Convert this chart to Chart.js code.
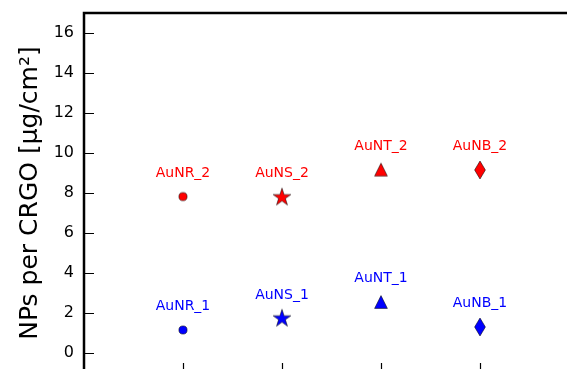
<!DOCTYPE html>
<html>
<head>
<meta charset="utf-8">
<script src="https://cdn.jsdelivr.net/npm/chart.js@4"></script>
<style>
  html, body { margin: 0; padding: 0; background: #fff; overflow: hidden; }
  #wrap { position: absolute; left: 0; top: 0; width: 640px; height: 400px; }
</style>
</head>
<body>
<div id="wrap"><canvas id="c" width="640" height="400"></canvas></div>
<script>
// Nanoparticle loading per sample type, two batches each
const categories = ['AuNR', 'AuNS', 'AuNT', 'AuNB'];
const xPositions = [1, 2, 3, 4];
const batch1 = [1.15, 1.72, 2.55, 1.3];
const batch2 = [7.82, 7.78, 9.17, 9.15];
const yTicks = [0, 2, 4, 6, 8, 10, 12, 14, 16];
const yTitle = 'NPs per CRGO [\u03bcg/cm\u00b2]';

const FONT = 'DejaVu Sans';

// Marker glyphs (circle, star, triangle, thin diamond) drawn on small canvases
function makeMarker(shape, fill) {
  const c = document.createElement('canvas');
  c.width = 26; c.height = 26;
  const g = c.getContext('2d');
  const cx = 13, cy = 13;
  g.beginPath();
  if (shape === 'circle') {
    g.arc(cx, cy, 4.1, 0, Math.PI * 2);
  } else if (shape === 'star') {
    const R = 9.3, r = R * 0.382;
    for (let i = 0; i < 10; i++) {
      const a = -Math.PI / 2 + i * Math.PI / 5;
      const rr = i % 2 === 0 ? R : r;
      const px = cx + rr * Math.cos(a), py = cy + rr * Math.sin(a);
      if (i === 0) g.moveTo(px, py); else g.lineTo(px, py);
    }
  } else if (shape === 'triangle') {
    const s = 6.4;
    g.moveTo(cx, cy - s);
    g.lineTo(cx + s, cy + s);
    g.lineTo(cx - s, cy + s);
  } else if (shape === 'diamond') {
    const h = 9, w = 5.4;
    g.moveTo(cx, cy - h);
    g.lineTo(cx + w, cy);
    g.lineTo(cx, cy + h);
    g.lineTo(cx - w, cy);
  }
  g.closePath();
  g.fillStyle = fill;
  g.fill();
  g.lineWidth = 0.7;
  g.strokeStyle = 'rgba(0,0,0,0.75)';
  g.stroke();
  return c;
}

const shapes = ['circle', 'star', 'triangle', 'diamond'];
const BLUE = '#0000ff', RED = '#ff0000';

function makeSeries(values, color, suffix) {
  return {
    data: values.map((v, i) => ({ x: xPositions[i], y: v })),
    names: categories.map(n => n + suffix),
    color: color,
    backgroundColor: color,
    borderColor: color,
    pointStyle: shapes.map(s => makeMarker(s, color)),
    pointRadius: 5,
    showLine: false
  };
}

// Inward tick marks on the left and bottom spines, plus a full frame
const framePlugin = {
  id: 'frame',
  afterDatasetsDraw(chart) {
    const { ctx, chartArea: a, scales } = chart;
    ctx.save();
    ctx.strokeStyle = '#000';
    ctx.lineWidth = 1.2;
    ctx.beginPath();
    yTicks.forEach(v => {
      const py = Math.round(scales.y.getPixelForValue(v)) + 0.5;
      ctx.moveTo(a.left, py); ctx.lineTo(a.left + 10, py);
      ctx.moveTo(a.right, py); ctx.lineTo(a.right - 10, py);
    });
    xPositions.forEach(v => {
      const px = Math.round(scales.x.getPixelForValue(v)) + 0.5;
      ctx.moveTo(px, a.bottom); ctx.lineTo(px, a.bottom - 10);
    });
    ctx.stroke();
    ctx.lineWidth = 2.5;
    ctx.strokeRect(a.left, a.top, a.right - a.left, a.bottom - a.top);
    ctx.restore();
  }
};

// Sample names written above each marker
const namePlugin = {
  id: 'names',
  afterDatasetsDraw(chart) {
    const { ctx } = chart;
    ctx.save();
    ctx.font = '14px "' + FONT + '"';
    ctx.textAlign = 'center';
    ctx.textBaseline = 'alphabetic';
    chart.data.datasets.forEach((ds, di) => {
      const meta = chart.getDatasetMeta(di);
      ctx.fillStyle = ds.color;
      meta.data.forEach((pt, i) => {
        ctx.fillText(ds.names[i], pt.x, pt.y - 20);
      });
    });
    ctx.restore();
  }
};

new Chart(document.getElementById('c'), {
  type: 'scatter',
  data: {
    datasets: [
      makeSeries(batch1, BLUE, '_1'),
      makeSeries(batch2, RED, '_2')
    ]
  },
  options: {
    responsive: false,
    animation: false,
    devicePixelRatio: 1,
    events: [],
    layout: { padding: { left: 0, top: 13, right: 61, bottom: 27 } },
    plugins: { legend: { display: false }, tooltip: { enabled: false } },
    scales: {
      x: {
        type: 'linear',
        min: 0,
        max: 5,
        display: false
      },
      y: {
        type: 'linear',
        min: -1,
        max: 17,
        afterBuildTicks: s => { s.ticks = yTicks.map(v => ({ value: v })); },
        afterFit: s => { s.width = 84; s.paddingTop = 0; s.paddingBottom = 0; },
        grid: { display: false, drawTicks: false },
        border: { display: false },
        ticks: {
          color: '#000',
          padding: 10,
          font: { family: FONT, size: 16 },
          callback: v => String(v)
        },
        title: {
          display: true,
          text: yTitle,
          color: '#000',
          font: { family: FONT, size: 25 },
          padding: { top: 15, bottom: 0 }
        }
      }
    }
  },
  plugins: [framePlugin, namePlugin]
});
</script>
</body>
</html>
